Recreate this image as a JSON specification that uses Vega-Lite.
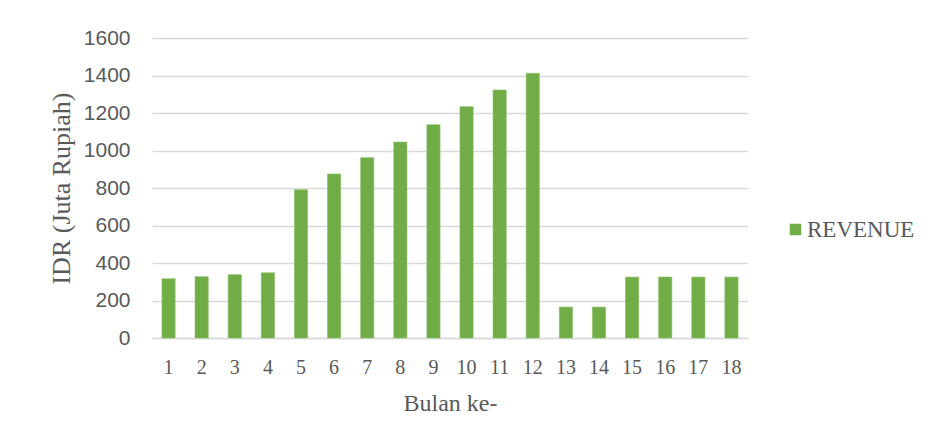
{
  "$schema": "https://vega.github.io/schema/vega-lite/v6.json",
  "width": 596,
  "height": 300,
  "autosize": {"type": "none"},
  "padding": {"left": 152, "top": 38, "right": 183, "bottom": 107},
  "background": "white",
  "config": {"view": {"stroke": null}},
  "data": {
    "values": [
      {"bulan": 1, "revenue": 316, "series": "REVENUE"},
      {"bulan": 2, "revenue": 327, "series": "REVENUE"},
      {"bulan": 3, "revenue": 338, "series": "REVENUE"},
      {"bulan": 4, "revenue": 348, "series": "REVENUE"},
      {"bulan": 5, "revenue": 791, "series": "REVENUE"},
      {"bulan": 6, "revenue": 875, "series": "REVENUE"},
      {"bulan": 7, "revenue": 962, "series": "REVENUE"},
      {"bulan": 8, "revenue": 1045, "series": "REVENUE"},
      {"bulan": 9, "revenue": 1138, "series": "REVENUE"},
      {"bulan": 10, "revenue": 1234, "series": "REVENUE"},
      {"bulan": 11, "revenue": 1323, "series": "REVENUE"},
      {"bulan": 12, "revenue": 1412, "series": "REVENUE"},
      {"bulan": 13, "revenue": 165, "series": "REVENUE"},
      {"bulan": 14, "revenue": 165, "series": "REVENUE"},
      {"bulan": 15, "revenue": 325, "series": "REVENUE"},
      {"bulan": 16, "revenue": 325, "series": "REVENUE"},
      {"bulan": 17, "revenue": 325, "series": "REVENUE"},
      {"bulan": 18, "revenue": 325, "series": "REVENUE"}
    ]
  },
  "mark": {"type": "bar", "stroke": "#8fc06a", "strokeWidth": 0.6},
  "encoding": {
    "x": {
      "field": "bulan",
      "type": "ordinal",
      "scale": {"paddingInner": 0.6, "paddingOuter": 0.3},
      "axis": {
        "title": "Bulan ke-",
        "labelAngle": 0,
        "labelFont": "Liberation Serif",
        "labelFontSize": 20,
        "labelColor": "#595959",
        "labelBaseline": "middle",
        "labelPadding": 29,
        "ticks": false,
        "domainColor": "#d9d9d9",
        "domainWidth": 1.5,
        "titleFont": "Liberation Serif",
        "titleFontSize": 24,
        "titleFontWeight": "normal",
        "titleColor": "#595959",
        "titleBaseline": "middle",
        "titleY": 65
      }
    },
    "y": {
      "field": "revenue",
      "type": "quantitative",
      "scale": {"domain": [0, 1600]},
      "axis": {
        "title": "IDR (Juta Rupiah)",
        "values": [0, 200, 400, 600, 800, 1000, 1200, 1400, 1600],
        "format": "d",
        "domain": false,
        "ticks": false,
        "gridColor": "#d9d9d9",
        "gridWidth": 1.5,
        "labelFont": "Liberation Sans",
        "labelFontSize": 21,
        "labelColor": "#595959",
        "labelPadding": 22,
        "titleFont": "Liberation Serif",
        "titleFontSize": 26,
        "titleFontWeight": "normal",
        "titleColor": "#595959",
        "titleAngle": -90,
        "titleAlign": "center",
        "titleBaseline": "middle",
        "titleX": -91,
        "titleY": 150
      }
    },
    "color": {
      "field": "series",
      "type": "nominal",
      "scale": {"range": ["#70ad47"]},
      "legend": {
        "title": null,
        "orient": "none",
        "legendX": 632,
        "legendY": 180,
        "symbolType": "square",
        "symbolSize": 132,
        "symbolStrokeWidth": 0,
        "labelFont": "Liberation Serif",
        "labelFontSize": 23,
        "labelColor": "#595959",
        "labelOffset": 0
      }
    }
  }
}
